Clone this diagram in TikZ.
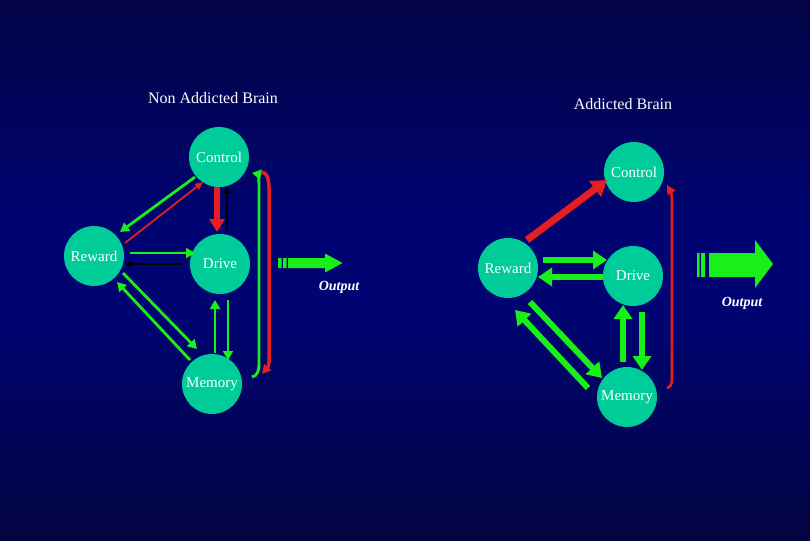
\documentclass[tikz,border=0pt]{standalone}
\usepackage{fontspec}
\setmainfont{Liberation Serif}
\usetikzlibrary{arrows.meta,calc}
\definecolor{brainteal}{RGB}{0,204,153}
\definecolor{linkgreen}{RGB}{25,240,25}
\definecolor{linkred}{RGB}{230,30,35}
\definecolor{bgnavy}{RGB}{0,4,114}
\definecolor{bgmid}{RGB}{2,4,58}
\definecolor{bgdark}{RGB}{4,3,14}
\definecolor{bgblack}{RGB}{2,2,4}
\pgfdeclareverticalshading{slidebg}{100bp}{color(0bp)=(bgdark); color(22bp)=(bgmid);
  color(46bp)=(bgnavy); color(54bp)=(bgnavy); color(80bp)=(bgmid); color(96bp)=(bgdark);
  color(100bp)=(bgblack)}

\begin{document}
\begin{tikzpicture}[x=1pt,y=-1pt,
  brain/.style={circle,fill=brainteal,minimum size=60pt,inner sep=0pt,
    text=white,font=\fontsize{15}{15}\selectfont},
  title/.style={text=white,font=\fontsize{16}{16}\selectfont},
  outlabel/.style={text=white,font=\fontsize{14}{14}\selectfont\bfseries\itshape},
  gthin/.style={draw=linkgreen,line width=2.8pt,-{Triangle[length=9pt,width=10pt]}},
  rthin/.style={draw=linkred,line width=1.8pt,-{Triangle[length=8pt,width=7pt]}},
  kthin/.style={draw=black,line width=2pt,-{Triangle[length=6pt,width=6pt]}},
  rbold/.style={draw=linkred,line width=5.5pt,-{Triangle[length=13pt,width=15pt]}},
  rbrack/.style={draw=linkred,line width=3.5pt,-{Triangle[length=9pt,width=9pt]}},
  gbold/.style={draw=linkgreen,line width=6pt,-{Triangle[length=14pt,width=18pt]}},
  rwide/.style={draw=linkred,line width=7pt,-{Triangle[length=15pt,width=19pt]}}]
  \shade[shading=slidebg] (0,0) rectangle (810,540);
  \useasboundingbox (0,0) rectangle (810,540);

  % titles
  \node[title] (tL) at (213,98) {Non Addicted Brain};
  \node[title] (tR) at (623,104) {Addicted Brain};

  % non addicted brain
  \node[brain] (cL) at (219,157) {Control};
  \node[brain] (rL) at (94,256) {Reward};
  \node[brain] (dL) at (220,264) {Drive};
  \node[brain] (mL) at (212,384) {Memory};

  \draw[gthin] ($(cL)+(-24,20)$) -- ($(rL)+(26,-24)$);
  \draw[rthin] ($(rL)+(31,-13)$) -- ($(cL)+(-16,25)$);
  \draw[rbold] ($(cL)+(-2,30)$) -- ($(dL)+(-3,-32)$);
  \draw[kthin] ($(dL)+(7,-32)$) -- ($(cL)+(8,30)$);
  \draw[gthin] ($(rL)+(36,-3)$) -- ($(dL)+(-25,-11)$);
  \draw[kthin] ($(dL)+(-38,0)$) -- ($(rL)+(31,8)$);
  \draw[gthin] ($(rL)+(29,17)$) -- ($(mL)+(-15,-35)$);
  \draw[gthin] ($(mL)+(-22,-24)$) -- ($(rL)+(23,26)$);
  \draw[gthin] ($(mL)+(3,-31)$) -- ($(dL)+(-5,36)$);
  \draw[gthin] ($(dL)+(8,36)$) -- ($(mL)+(16,-24)$);
  \draw[gthin] ($(mL)+(40,-7)$) to[out=10,in=-90] ($(mL)+(47,-20)$)
    -- ($(cL)+(40,30)$) to[out=90,in=-10] ($(cL)+(33,16)$);
  \draw[rbrack] ($(cL)+(42,15)$) to[out=0,in=90] ($(cL)+(50,30)$)
    -- ($(mL)+(57,-22)$) to[out=-90,in=50] ($(mL)+(50,-10)$);

  % output arrow, left
  \fill[linkgreen] (278,258) rectangle (281.5,268) (283,258) rectangle (286.5,268)
    (288,258) -- (325,258) -- (325,253.5) -- (342.5,263) -- (325,272.5)
    -- (325,268) -- (288,268) -- cycle;
  \node[outlabel] (oL) at (339,287) {Output};

  % addicted brain
  \node[brain] (cR) at (634,172) {Control};
  \node[brain] (rR) at (508,268) {Reward};
  \node[brain] (dR) at (633,276) {Drive};
  \node[brain] (mR) at (627,397) {Memory};

  \draw[rwide] ($(rR)+(19,-28)$) -- ($(cR)+(-27,8)$);
  \draw[gbold] ($(rR)+(35,-8)$) -- ($(dR)+(-26,-16)$);
  \draw[gbold] ($(dR)+(-30,1)$) -- ($(rR)+(30,9)$);
  \draw[gbold] ($(rR)+(22,34)$) -- ($(mR)+(-25,-19)$);
  \draw[gbold] ($(mR)+(-39,-9)$) -- ($(rR)+(7,42)$);
  \draw[gbold] ($(mR)+(-4,-35)$) -- ($(dR)+(-10,29)$);
  \draw[gbold] ($(dR)+(9,36)$) -- ($(mR)+(15,-27)$);
  \draw[rbrack,line width=2.6pt] ($(mR)+(40,-9)$) to[out=10,in=-90] ($(mR)+(45,-22)$)
    -- ($(cR)+(38,28)$) to[out=90,in=-60] ($(cR)+(33,13)$);

  % output arrow, right
  \fill[linkgreen] (697,253) rectangle (699.5,277) (701,253) rectangle (705,277)
    (709,253) -- (755,253) -- (755,240) -- (773,264) -- (755,288)
    -- (755,277) -- (709,277) -- cycle;
  \node[outlabel] (oR) at (742,303) {Output};
\end{tikzpicture}
\end{document}
